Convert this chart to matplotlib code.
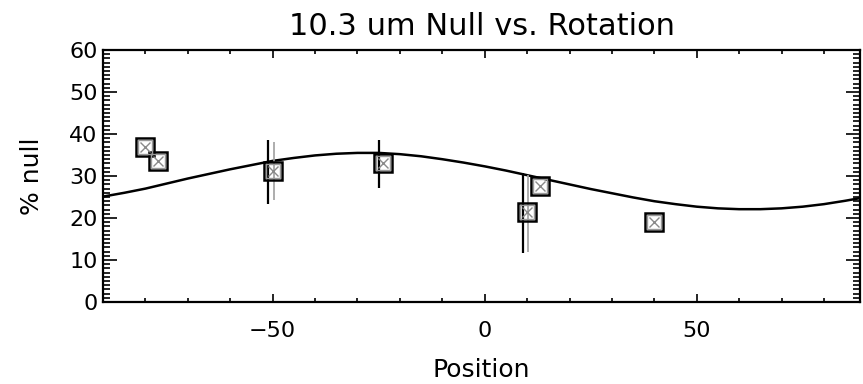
import matplotlib
matplotlib.use("Agg")
import matplotlib.pyplot as plt
from matplotlib.ticker import MultipleLocator

# measured points (position, % null)
pos = [-80.0, -77.0, -49.9, -23.9, 9.9, 13.0, 39.9]
null = [36.8, 33.6, 31.2, 33.2, 21.4, 27.7, 19.0]

# black error bars (drawn slightly left of the points)
err_black_x = [-51.2, -24.9, 9.1]
err_black_lo = [23.3, 27.1, 11.7]
err_black_hi = [38.6, 38.6, 30.8]

# grey error bars
err_grey_x = [-49.7, 10.1]
err_grey_lo = [24.3, 12.0]
err_grey_hi = [38.2, 30.2]

# fitted curve
fit_x = [-90, -85, -80, -75, -70, -65, -60, -55, -50, -45, -40, -35, -30,
         -25, -20, -15, -10, -5, 0, 5, 10, 15, 20, 25, 30, 35, 40, 45, 50,
         55, 60, 65, 70, 75, 80, 85, 90]
fit_y = [25.1, 26.0, 27.0, 28.2, 29.4, 30.5, 31.6, 32.6, 33.6, 34.3, 34.9,
         35.3, 35.5, 35.5, 35.2, 34.7, 34.0, 33.2, 32.3, 31.3, 30.2, 29.1,
         28.0, 26.9, 25.9, 24.9, 24.0, 23.3, 22.7, 22.3, 22.1, 22.1, 22.3,
         22.7, 23.3, 24.1, 25.0]

plt.rcParams['font.family'] = ['DejaVu Sans']

fig = plt.figure(figsize=(8.63, 3.84), dpi=100)
ax = fig.add_axes([0.1194, 0.2135, 0.8771, 0.6563])

ax.plot(fit_x, fit_y, color='black', lw=1.8, zorder=2)

# error bars
ax.vlines(err_black_x, err_black_lo, err_black_hi, color='black', lw=1.6, zorder=3)
ax.vlines(err_grey_x, err_grey_lo, err_grey_hi, color='#a0a0a0', lw=1.2, zorder=3)

# squares with an x inside
ax.plot(pos, null, linestyle='none', marker='s', markersize=13,
        markerfacecolor='none', markeredgecolor='black', markeredgewidth=1.8, zorder=4)
ax.plot(pos, null, linestyle='none', marker='s', markersize=10.5,
        markerfacecolor='none', markeredgecolor='#9a9a9a', markeredgewidth=1.0, zorder=4)
ax.plot(pos, null, linestyle='none', marker='x', markersize=7.5,
        color='#8a8a8a', markeredgewidth=1.0, zorder=4)

ax.set_xlim(-90, 88.5)
ax.set_ylim(0, 60)
ax.xaxis.set_major_locator(MultipleLocator(50))
ax.xaxis.set_minor_locator(MultipleLocator(10))
ax.yaxis.set_major_locator(MultipleLocator(10))
ax.yaxis.set_minor_locator(MultipleLocator(1))
ax.tick_params(which='both', direction='in', top=True, right=True, labelsize=16, width=1.2)
ax.tick_params(axis='x', which='major', length=6, pad=14)
ax.tick_params(axis='x', which='minor', length=3)
ax.tick_params(axis='y', which='major', length=10, pad=4)
ax.tick_params(axis='y', which='minor', length=5)
for s in ax.spines.values():
    s.set_linewidth(1.6)

ax.set_title("10.3 um Null vs. Rotation", fontsize=22, pad=11)
ax.set_xlabel("Position", fontsize=18, labelpad=12)
ax.set_ylabel("% null", fontsize=18, labelpad=18)

fig.savefig("out.png", dpi=100)
